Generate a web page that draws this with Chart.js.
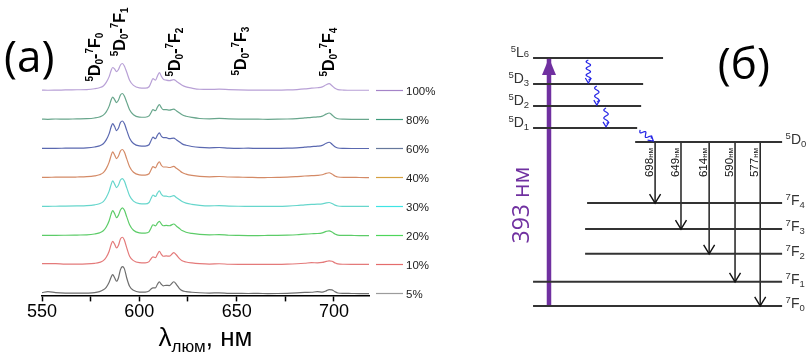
<!DOCTYPE html>
<html>
<head>
<meta charset="utf-8">
<title>Люминесценция Eu3+</title>
<script src="https://cdn.jsdelivr.net/npm/chart.js@4.4.0/dist/chart.umd.min.js"></script>
<style>
  body { margin: 0; background: #fff; width: 811px; height: 355px; position: relative; overflow: hidden; }
  canvas { position: absolute; top: 0; }
  #spec { left: 0; }
  #levels { left: 480px; }
</style>
</head>
<body>
<canvas id="spec" width="440" height="355"></canvas>
<canvas id="levels" width="331" height="355"></canvas>

<script>
// ---------- (а) спектры ----------
var wl = [550, 553, 557, 562, 568, 573, 577, 579.5, 581.5, 583, 584.5, 585.5, 586.3, 587.3, 588.3, 589.3,
          590.3, 591.3, 592.3, 593.5, 595, 597, 600, 603, 605, 606, 607, 608.3, 609.3, 610.3, 611.3, 612.3,
          613.8, 615.5, 617.7, 619, 620.5, 622, 624, 627, 631, 636, 641, 646, 651, 656, 661, 666,
          671, 676, 681, 685, 688.5, 691.5, 694, 696, 697.5, 699, 700.5, 702, 705, 709, 713, 718];

var s5 = [1.2, 2.2, 1.3, 0.8, 0.7, 0.8, 1.2, 2.2, 4.0, 6.5, 11.5, 16.5, 19, 16, 12.5, 16,
          24, 27, 25, 16, 7.5, 3.5, 1.8, 1.8, 2.8, 4.8, 6, 6, 9.5, 11.8, 9.5, 8,
          8.5, 8.2, 12, 9.5, 5.5, 3.2, 2.2, 1.6, 1.1, 0.8, 1.0, 0.6, 0.5, 0.4, 0.5, 0.3,
          0.4, 0.6, 1.0, 1.4, 1.6, 2.2, 1.8, 3.0, 4.3, 4.0, 2.2, 0.9, 0.5, 0.4, 0.3, 0.3];
var s10 = [1.2, 1.3, 1.2, 0.8, 0.7, 0.9, 1.5, 2.4, 4.2, 7.5, 13.5, 20, 23.3, 20.5, 16.7, 19.5,
           25.5, 27.3, 24.5, 17, 8.5, 4.2, 2.2, 2.0, 3.2, 6, 8, 7.2, 10.5, 13.3, 10.5, 8.5,
           8.8, 8.6, 12.2, 10, 6.5, 4, 2.8, 1.9, 1.2, 0.8, 1.1, 0.6, 0.5, 0.5, 0.5, 0.5,
           0.5, 0.7, 1.1, 1.6, 2.2, 2.0, 2.4, 3.4, 4, 3.6, 2.0, 0.9, 0.6, 0.5, 0.5, 0.5];
var s20 = [0.5, 0.5, 0.5, 0.6, 0.8, 1.0, 1.8, 2.9, 5.0, 8.8, 15, 21.5, 25, 22, 18, 20.5,
           25.5, 27.7, 25.5, 19, 11, 5.5, 3.0, 2.7, 4, 7.6, 11, 9.8, 12.5, 14.3, 11.8, 10,
           10.3, 10, 11.7, 9.8, 7.5, 5.2, 3.6, 2.4, 1.4, 1.0, 1.2, 0.6, 0.4, 0.3, 0.3, 0.4,
           0.5, 0.7, 1.1, 1.7, 2.1, 2.3, 3.0, 4.4, 5, 3.8, 1.8, 0.8, 0.5, 0.4, 0.3, 0.3];
var s30 = [0.5, 0.5, 0.6, 0.7, 0.9, 1.2, 2.0, 3.1, 5.2, 9.3, 15.5, 22, 25.7, 22.5, 19, 21.5,
           26.5, 28, 25.5, 19, 11, 5.6, 3.1, 2.9, 4.3, 8.2, 11.7, 10.2, 13.5, 15.7, 12.5, 10.7,
           10.5, 10, 11, 9.3, 7.3, 5.2, 3.7, 2.5, 1.5, 1.0, 1.1, 0.8, 0.6, 0.5, 0.4, 0.4,
           0.5, 0.8, 1.3, 2.0, 2.4, 2.6, 3.0, 3.9, 4.3, 3.3, 1.7, 0.8, 0.5, 0.4, 0.4, 0.4];
var s40 = [0.5, 0.5, 0.6, 0.6, 0.8, 1.1, 1.9, 3.0, 5.1, 9.1, 15.5, 22, 25.7, 22.5, 19, 21.5,
           26.5, 28, 25.5, 19, 11, 5.5, 3.0, 2.7, 4, 7.8, 11, 9.8, 13.5, 15.7, 12.5, 10.7,
           10.7, 10.2, 11.3, 9.5, 7.5, 5.2, 3.7, 2.4, 1.4, 1.0, 1.3, 0.8, 0.6, 0.5, 0.2, 0.3,
           0.4, 0.6, 1.2, 1.8, 2.2, 2.4, 3.0, 4.4, 5, 3.8, 1.8, 0.8, 0.5, 0.5, 0.3, 0.2];
var s60 = [0.5, 0.5, 0.5, 0.6, 0.7, 1.0, 1.8, 2.9, 5.0, 8.8, 15, 21.5, 25, 22, 18, 20.5,
           26, 27.5, 25, 18.5, 10.5, 5.3, 2.9, 2.7, 4, 8, 11.5, 10, 13.5, 15.8, 12.5, 11,
           11, 10, 10.5, 9, 7, 4.9, 3.5, 2.3, 1.4, 1.0, 1.3, 0.7, 0.5, 0.6, 0.4, 0.4,
           0.5, 0.6, 1.0, 1.6, 2.2, 2.6, 3.4, 5.5, 6.5, 4.6, 2.0, 0.8, 0.4, 0.3, 0.3, 0.3];
var s80 = [0.6, 0.5, 0.8, 0.6, 0.9, 1.1, 1.8, 2.8, 4.6, 7.8, 13.5, 19.5, 22.5, 20, 17, 19.5,
           24.5, 26, 23.5, 17.5, 10, 5, 2.7, 2.5, 3.8, 7, 10, 9, 12.5, 15, 12, 10,
           10, 9.5, 10.5, 9, 7, 4.9, 3.5, 2.3, 1.3, 1.0, 1.3, 0.9, 0.7, 0.6, 0.6, 0.5,
           0.6, 0.8, 1.2, 1.8, 2.4, 2.8, 3.6, 5.6, 6.7, 4.8, 2.2, 1.0, 0.6, 0.5, 0.5, 0.5];
var s100 = [0.6, 0.5, 0.6, 0.8, 1.0, 1.2, 2.0, 3.0, 4.8, 8.3, 14, 20, 23, 21.5, 19, 21,
            25.5, 27, 24.5, 18.5, 10.5, 5.3, 2.8, 2.6, 4, 8, 12, 10.5, 14.5, 18, 14.5, 11.5,
            10.5, 10, 11, 9.5, 7.5, 5.4, 3.8, 2.6, 1.5, 1.3, 1.6, 1.2, 0.9, 0.7, 0.6, 0.6,
            0.6, 0.8, 1.2, 1.8, 2.6, 3, 3.8, 6, 7, 5, 2.5, 1.2, 0.7, 0.5, 0.5, 0.5];

var seriesNames = ['5%', '10%', '20%', '30%', '40%', '60%', '80%', '100%'];
var seriesVals = [s5, s10, s20, s30, s40, s60, s80, s100];
var lineColors = ['#6e6e6e', '#e47a7a', '#5ccc68', '#66d6cc', '#d48a66', '#5a68b0', '#68a68c', '#b8a0d6'];
var keyColors = ['#9c9c9c', '#e46c6c', '#4ed65a', '#3ee4e4', '#d6a040', '#66789c', '#3e9a7a', '#a584c8'];
var step = 28.7;     // сдвиг между спектрами
var xTicks = [550, 600, 650, 700];

// подписи переходов 5D0-7FJ
var transJ = ['0', '1', '2', '3', '4'];
var transNm = [580, 592.8, 621, 654.6, 700];
var transY = [210, 235, 215, 216, 215];

// ---------- (б) схема уровней ----------
var levelNames = ['7F0', '7F1', '7F2', '7F3', '7F4', '5D0', '5D1', '5D2', '5D3', '5L6'];
var levelE     = [0, 9.7, 21.0, 31.0, 41.5, 66.1, 71.8, 80.6, 89.5, 100];
var levelFrom  = [0, 0, 20.9, 20.9, 21.7, 41.0, 0, 0, 0, 0];
var levelTo    = [100, 100, 100, 100, 100, 100, 41.8, 43.4, 44.2, 52.2];
var levelSide  = ['r', 'r', 'r', 'r', 'r', 'r', 'l', 'l', 'l', 'l'];

var excNm = 393, excX = 6.4;
var emNm = [698, 649, 614, 590, 577];
var emTo = ['7F4', '7F3', '7F2', '7F1', '7F0'];
var emX = [49.0, 59.4, 70.7, 81.1, 91.2];

var relaxFrom = ['5L6', '5D3', '5D2', '5D1'];
var relaxTo = ['5D3', '5D2', '5D1', '5D0'];
var relaxX0 = [22.2, 25.6, 29.3, 43.0];
var relaxX1 = [22.2, 25.6, 29.3, 48.3];

function E(name) { return levelE[levelNames.indexOf(name)]; }

// текст с индексами, parts: [text, 'n'|'sup'|'sub']
function drawParts(ctx, x, y, parts, big, small, supOff, subOff) {
  var cx = x;
  parts.forEach(function (p) {
    ctx.font = p[1] === 'n' ? big : small;
    var dy = p[1] === 'sup' ? -supOff : (p[1] === 'sub' ? subOff : 0);
    ctx.fillText(p[0], cx, y + dy);
    cx += ctx.measureText(p[0]).width;
  });
  return cx - x;
}
function partsWidth(ctx, parts, big, small) {
  var w = 0;
  parts.forEach(function (p) { ctx.font = p[1] === 'n' ? big : small; w += ctx.measureText(p[0]).width; });
  return w;
}

var specDecor = {
  id: 'specDecor',
  afterDraw: function (chart) {
    var ctx = chart.ctx, xs = chart.scales.x, ys = chart.scales.y, ca = chart.chartArea;
    ctx.save();
    // легенда
    ctx.font = '11.5px Arial';
    ctx.textBaseline = 'middle';
    for (var i = 0; i < seriesNames.length; i++) {
      var y = Math.round(ys.getPixelForValue(i * step + 0.5)) + 0.5;
      ctx.strokeStyle = keyColors[i];
      ctx.lineWidth = 1.2;
      ctx.beginPath(); ctx.moveTo(ca.right + 7, y); ctx.lineTo(ca.right + 34, y); ctx.stroke();
      ctx.fillStyle = '#222';
      ctx.fillText(seriesNames[i], ca.right + 37, y + 1);
    }
    // подписи переходов
    ctx.fillStyle = '#000';
    ctx.textBaseline = 'alphabetic';
    for (var j = 0; j < transJ.length; j++) {
      ctx.save();
      ctx.translate(xs.getPixelForValue(transNm[j]), ys.getPixelForValue(transY[j]));
      ctx.rotate(-Math.PI / 2);
      drawParts(ctx, 0, 0, [['5', 'sup'], ['D', 'n'], ['0', 'sub'], ['-', 'n'], ['7', 'sup'], ['F', 'n'], [transJ[j], 'sub']],
        'bold 16px Arial', 'bold 10px Arial', 7, 3);
      ctx.restore();
    }
    // (a)
    ctx.font = '44px "Open Sans"';
    ctx.fillText('(a)', 4, 72);
    // подпись оси
    var tp = [['λ', 'n'], ['люм', 'sub'], [', нм', 'n']];
    var big = '26px Arial', small = '17px Arial';
    var w = partsWidth(ctx, tp, big, small);
    drawParts(ctx, (ca.left + ca.right) / 2 - w / 2, 346, tp, big, small, 0, 6);
    ctx.restore();
  }
};

new Chart(document.getElementById('spec'), {
  type: 'line',
  data: {
    datasets: seriesVals.map(function (vals, i) {
      return {
        label: seriesNames[i],
        data: wl.map(function (x, k) { return { x: x, y: vals[k] + i * step }; }),
        borderColor: lineColors[i],
        borderWidth: 1.2,
        pointRadius: 0,
        cubicInterpolationMode: 'monotone',
        fill: false
      };
    })
  },
  options: {
    responsive: false,
    animation: false,
    layout: { padding: { left: 42, right: 71, top: 29, bottom: 32 } },
    scales: {
      x: {
        type: 'linear', min: 550, max: 718,
        border: { display: true, color: '#000', width: 1.5 },
        grid: { display: true, drawOnChartArea: false, drawTicks: true, tickLength: 6, color: '#000', tickColor: '#000', tickWidth: 1.5 },
        ticks: {
          stepSize: 25, includeBounds: false, autoSkip: false, maxRotation: 0, padding: 0,
          color: '#000', font: { family: 'Arial', size: 18 },
          callback: function (v) { return xTicks.indexOf(v) >= 0 ? String(v) : ''; }
        }
      },
      y: { display: false, min: -1.5, max: 262 }
    },
    plugins: { legend: { display: false }, tooltip: { enabled: false } }
  },
  plugins: [specDecor]
});

// ---------- схема ----------
var purple = '#7030a0';
var diagDatasets = [];
levelNames.forEach(function (n, i) {
  diagDatasets.push({ data: [{ x: levelFrom[i], y: levelE[i] }, { x: levelTo[i], y: levelE[i] }],
    borderColor: '#333', borderWidth: 2 });
});
diagDatasets.push({ data: [{ x: excX, y: 0 }, { x: excX, y: E('5L6') }], borderColor: purple, borderWidth: 4.5, arrow: 'filled' });
emNm.forEach(function (nm, i) {
  diagDatasets.push({ data: [{ x: emX[i], y: E('5D0') }, { x: emX[i], y: E(emTo[i]) }], borderColor: '#111', borderWidth: 1.4, arrow: 'open', nm: nm });
});

function splitName(n) { return [[n[0], 'sup'], [n[1], 'n'], [n.slice(2), 'sub']]; }

var diagDecor = {
  id: 'diagDecor',
  afterDatasetsDraw: function (chart) {
    var ctx = chart.ctx, xs = chart.scales.x, ys = chart.scales.y;
    ctx.save();
    // наконечники
    chart.data.datasets.forEach(function (ds, i) {
      if (!ds.arrow) return;
      var pts = chart.getDatasetMeta(i).data;
      var a = pts[0], b = pts[1];
      var dx = b.x - a.x, dy = b.y - a.y, L = Math.hypot(dx, dy), ux = dx / L, uy = dy / L;
      if (ds.arrow === 'filled') {
        ctx.fillStyle = ds.borderColor;
        ctx.beginPath();
        ctx.moveTo(b.x, b.y);
        ctx.lineTo(b.x - ux * 17 - uy * 7, b.y - uy * 17 + ux * 7);
        ctx.lineTo(b.x - ux * 17 + uy * 7, b.y - uy * 17 - ux * 7);
        ctx.closePath(); ctx.fill();
      } else {
        ctx.strokeStyle = ds.borderColor; ctx.lineWidth = 1.4;
        ctx.beginPath();
        ctx.moveTo(b.x - ux * 9 - uy * 5.5, b.y - uy * 9 + ux * 5.5);
        ctx.lineTo(b.x, b.y);
        ctx.lineTo(b.x - ux * 9 + uy * 5.5, b.y - uy * 9 - ux * 5.5);
        ctx.stroke();
      }
    });
    // безызлучательная релаксация
    ctx.strokeStyle = '#2424e6'; ctx.lineWidth = 1.2;
    for (var r = 0; r < relaxFrom.length; r++) {
      var x0 = xs.getPixelForValue(relaxX0[r]), y0 = ys.getPixelForValue(E(relaxFrom[r])) + 2;
      var x1 = xs.getPixelForValue(relaxX1[r]), y1 = ys.getPixelForValue(E(relaxTo[r])) - 1;
      var dx = x1 - x0, dy = y1 - y0, L = Math.hypot(dx, dy), ux = dx / L, uy = dy / L;
      var body = L - 3, per = Math.max(2, Math.round(body / 8));
      ctx.beginPath();
      for (var t = 0; t <= body; t += 0.5) {
        var amp = Math.sin(t / body * Math.PI * 2 * per) * 2.2;
        var px = x0 + ux * t - uy * amp, py = y0 + uy * t + ux * amp;
        if (t === 0) ctx.moveTo(px, py); else ctx.lineTo(px, py);
      }
      ctx.stroke();
      ctx.beginPath();
      ctx.moveTo(x1 - ux * 5 - uy * 3, y1 - uy * 5 + ux * 3);
      ctx.lineTo(x1, y1);
      ctx.lineTo(x1 - ux * 5 + uy * 3, y1 - uy * 5 - ux * 3);
      ctx.stroke();
    }
    // подписи уровней
    ctx.fillStyle = '#333';
    ctx.textBaseline = 'alphabetic';
    var big = '14px Arial', small = '9.5px Arial';
    levelNames.forEach(function (n, i) {
      var parts = splitName(n);
      var y = ys.getPixelForValue(levelE[i]);
      if (levelSide[i] === 'l') {
        var w = partsWidth(ctx, parts, big, small);
        drawParts(ctx, xs.getPixelForValue(-1.6) - w, y - 1, parts, big, small, 5, n[1] === 'L' ? 0 : 3);
      } else {
        drawParts(ctx, xs.getPixelForValue(101.4), y + 2, parts, big, small, 5, 3);
      }
    });
    // длины волн переходов
    ctx.fillStyle = '#111';
    chart.data.datasets.forEach(function (ds, i) {
      if (!ds.nm) return;
      var a = chart.getDatasetMeta(i).data[0];
      ctx.save();
      ctx.translate(a.x - 2, a.y + 35);
      ctx.rotate(-Math.PI / 2);
      drawParts(ctx, 0, 0, [[String(ds.nm), 'n'], ['нм', 'sub']], '11.5px Arial', '8px Arial', 0, 0);
      ctx.restore();
    });
    // 393 нм
    ctx.save();
    ctx.fillStyle = purple;
    ctx.font = '23px "Open Sans"';
    ctx.textAlign = 'center';
    ctx.translate(xs.getPixelForValue(excX) - 20, ys.getPixelForValue(40.7));
    ctx.rotate(-Math.PI / 2);
    ctx.fillText(excNm + ' нм', 0, 0);
    ctx.restore();
    // (б)
    ctx.fillStyle = '#000';
    ctx.font = '44px "Open Sans"';
    ctx.fillText('(б)', xs.getPixelForValue(74.2), 79);
    ctx.restore();
  }
};

new Chart(document.getElementById('levels'), {
  type: 'line',
  data: {
    datasets: diagDatasets.map(function (d) {
      d.pointRadius = 0; d.fill = false; d.tension = 0;
      return d;
    })
  },
  options: {
    responsive: false,
    animation: false,
    layout: { padding: 0 },
    scales: {
      x: { type: 'linear', display: false, min: -21.3, max: 111.6 },
      y: { type: 'linear', display: false, min: -19.8, max: 123.4 }
    },
    plugins: { legend: { display: false }, tooltip: { enabled: false } }
  },
  plugins: [diagDecor]
});
</script>
</body>
</html>
